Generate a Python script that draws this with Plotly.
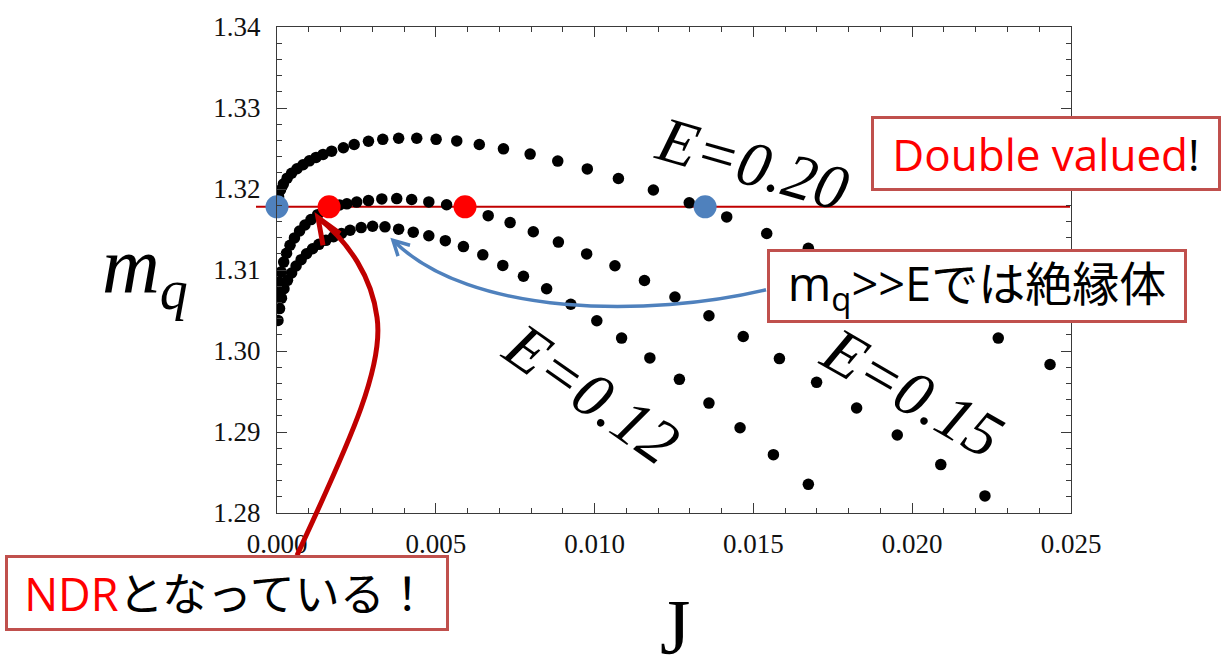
import plotly.graph_objects as go

# ---------------- data ----------------
J_E020 = [0.00002, 0.00005, 0.00011, 0.00020, 0.00032, 0.00046, 0.00063, 0.00082, 0.00102,
          0.00123, 0.00145, 0.00172, 0.00209, 0.00243, 0.00288, 0.00333, 0.00383, 0.00440,
          0.00501, 0.00566, 0.00637, 0.00713, 0.00797, 0.00884, 0.00977, 0.01075, 0.01185,
          0.01298, 0.01416, 0.01542, 0.01673, 0.01810, 0.01958, 0.02113, 0.02271, 0.02434]
m_E020 = [1.31805, 1.31902, 1.31988, 1.32061, 1.32134, 1.32195, 1.32250, 1.32299, 1.32348,
          1.32390, 1.32427, 1.32467, 1.32509, 1.32549, 1.32589, 1.32613, 1.32626, 1.32626,
          1.32613, 1.32594, 1.32549, 1.32496, 1.32431, 1.32345, 1.32248, 1.32130, 1.31988,
          1.31829, 1.31655, 1.31451, 1.31268, 1.31049, 1.30793, 1.30488, 1.30159, 1.29833]

J_E015 = [0.00003, 0.00006, 0.00013, 0.00021, 0.00030, 0.00041, 0.00055, 0.00071, 0.00088,
          0.00107, 0.00128, 0.00150, 0.00173, 0.00197, 0.00220, 0.00251, 0.00288, 0.00330,
          0.00377, 0.00424, 0.00478, 0.00534, 0.00598, 0.00665, 0.00734, 0.00807, 0.00886,
          0.00975, 0.01064, 0.01157, 0.01253, 0.01360, 0.01468, 0.01582, 0.01699, 0.01825,
          0.01953, 0.02090, 0.02229, 0.02371]
m_E015 = [1.30720, 1.30854, 1.30976, 1.31098, 1.31207, 1.31305, 1.31396, 1.31482, 1.31555,
          1.31622, 1.31683, 1.31732, 1.31774, 1.31802, 1.31817, 1.31838, 1.31857, 1.31878,
          1.31882, 1.31870, 1.31841, 1.31805, 1.31744, 1.31671, 1.31585, 1.31472, 1.31345,
          1.31199, 1.31052, 1.30870, 1.30667, 1.30435, 1.30179, 1.29906, 1.29613, 1.29296,
          1.28963, 1.28598, 1.28211, 1.27793]

J_E012 = [0.00003, 0.00008, 0.00014, 0.00022, 0.00033, 0.00046, 0.00060, 0.00076, 0.00093,
          0.00112, 0.00132, 0.00154, 0.00178, 0.00203, 0.00230, 0.00265, 0.00301, 0.00340,
          0.00383, 0.00429, 0.00478, 0.00530, 0.00587, 0.00648, 0.00711, 0.00776, 0.00849,
          0.00925, 0.01007, 0.01085, 0.01174, 0.01267, 0.01360, 0.01458, 0.01563, 0.01673,
          0.01781]
m_E012 = [1.30378, 1.30524, 1.30652, 1.30768, 1.30872, 1.30963, 1.31049, 1.31128, 1.31201,
          1.31262, 1.31317, 1.31366, 1.31411, 1.31451, 1.31491, 1.31524, 1.31540, 1.31533,
          1.31504, 1.31467, 1.31423, 1.31362, 1.31289, 1.31187, 1.31057, 1.30923, 1.30768,
          1.30577, 1.30374, 1.30159, 1.29915, 1.29650, 1.29357, 1.29052, 1.28720, 1.28354,
          1.27996]

m_level = 1.3178                 # horizontal red line
J_blue = [0.0, 0.01348]          # blue marked points (E=0.20 branch)
J_red = [0.00164, 0.00592]       # red marked points (E=0.15 branch)

x_tick_vals = [0.0, 0.005, 0.010, 0.015, 0.020, 0.025]
x_tick_text = ["0.000", "0.005", "0.010", "0.015", "0.020", "0.025"]
y_tick_vals = [1.28, 1.29, 1.30, 1.31, 1.32, 1.33, 1.34]
y_tick_text = ["1.28", "1.29", "1.30", "1.31", "1.32", "1.33", "1.34"]

curve_labels = ["E=0.20", "E=0.12", "E=0.15"]

# ---------------- layout geometry ----------------
W, H = 1229, 662
ML, MR, MT, MB = 277, 158, 21, 149
X_RANGE = [0.0, 0.025]
Y_RANGE = [1.28, 1.34]
PW, PH = W - ML - MR, H - MT - MB


def px(x):  # pixel -> paper x
    return (x - ML) / PW


def py(y):  # pixel -> paper y
    return (H - MB - y) / PH


def dx(J):  # data -> paper x
    return (J - X_RANGE[0]) / (X_RANGE[1] - X_RANGE[0])


def dy(m):  # data -> paper y
    return (m - Y_RANGE[0]) / (Y_RANGE[1] - Y_RANGE[0])


def data_path(pts, cubic=True):
    p = [(dx(a), dy(b)) for a, b in pts]
    s = "M {:.5f},{:.5f}".format(*p[0])
    rest = p[1:]
    if cubic:
        for i in range(0, len(rest), 3):
            s += " C " + " ".join("{:.5f},{:.5f}".format(*q) for q in rest[i:i + 3])
    else:
        s += "".join(" L {:.5f},{:.5f}".format(*q) for q in rest)
    return s


fig = go.Figure()

for J, m in [(J_E020, m_E020), (J_E015, m_E015), (J_E012, m_E012)]:
    fig.add_trace(go.Scatter(x=J, y=m, mode="markers",
                             marker=dict(color="black", size=11.5, line=dict(width=0)),
                             showlegend=False, hoverinfo="skip"))

fig.add_trace(go.Scatter(x=J_red, y=[m_level] * len(J_red), mode="markers", cliponaxis=False,
                         marker=dict(color="#FF0000", size=23, line=dict(width=0)),
                         showlegend=False, hoverinfo="skip"))
fig.add_trace(go.Scatter(x=J_blue, y=[m_level] * len(J_blue), mode="markers", cliponaxis=False,
                         marker=dict(color="#4F81BD", size=23, line=dict(width=0)),
                         showlegend=False, hoverinfo="skip"))

# horizontal red line
fig.add_shape(type="line", xref="paper", yref="y", x0=px(256), x1=px(1070),
              y0=m_level, y1=m_level, line=dict(color="#C00000", width=2), layer="below")

# arrows (waypoints in data units)
blue_arrow = [(0.015397, 1.30756), (0.011744, 1.30415), (0.006077, 1.30415), (0.003652, 1.31366)]
blue_head = [(0.003810, 1.31171), (0.003652, 1.31366), (0.004188, 1.31305)]
red_arrow = [(0.000630, 1.27476), (0.001984, 1.28646), (0.003400, 1.29744), (0.003149, 1.30415),
             (0.002991, 1.30902), (0.002299, 1.31329), (0.001291, 1.31646)]
red_head = [(0.001984, 1.31451), (0.001291, 1.31646), (0.001448, 1.31305)]

fig.add_shape(type="path", xref="paper", yref="paper", path=data_path(blue_arrow),
              line=dict(color="#4F81BD", width=3.5))
fig.add_shape(type="path", xref="paper", yref="paper", path=data_path(blue_head, cubic=False),
              line=dict(color="#4F81BD", width=3.5))
fig.add_shape(type="path", xref="paper", yref="paper", path=data_path(red_arrow),
              line=dict(color="#C00000", width=5))
fig.add_shape(type="path", xref="paper", yref="paper", path=data_path(red_head, cubic=False),
              line=dict(color="#C00000", width=5))

serif = "Liberation Serif, Times New Roman, serif"
sans = "Open Sans, Noto Sans CJK JP, sans-serif"

# curve labels
for txt, (cx, cy, ang) in zip(curve_labels, [(752, 159, 16), (591, 392, 35), (912, 391, 30)]):
    fig.add_annotation(x=px(cx), y=py(cy), xref="paper", yref="paper", text="<i>" + txt + "</i>",
                       textangle=ang, showarrow=False, xanchor="center", yanchor="middle",
                       font=dict(family=serif, size=64, color="black"))

# axis titles
fig.add_annotation(x=px(145), y=py(268), xref="paper", yref="paper",
                   text="<i>m</i><sub><i>q</i></sub>", showarrow=False,
                   xanchor="center", yanchor="middle",
                   font=dict(family=serif, size=80, color="black"))
fig.add_annotation(x=px(675), y=py(628), xref="paper", yref="paper", text="J", showarrow=False,
                   xanchor="center", yanchor="middle",
                   font=dict(family=serif, size=78, color="black"))

# boxed notes
box_style = dict(showarrow=False, xref="paper", yref="paper", xanchor="center", yanchor="middle",
                 bgcolor="white", bordercolor="#C0504D", borderwidth=3, borderpad=0)
fig.add_annotation(x=px(1046), y=py(149.5), width=344, height=69,
                   text="<span style='color:#FF0000'>Double valued</span>!",
                   font=dict(family=sans, size=44, color="black"), **box_style)
fig.add_annotation(x=px(977), y=py(283), width=414, height=68,
                   text="m<sub>q</sub>&gt;&gt;Eでは絶縁体",
                   font=dict(family=sans, size=47, color="black"), **box_style)
fig.add_annotation(x=px(227), y=py(594), width=438, height=70,
                   text="<span style='color:#FF0000'>NDR</span>となっている！",
                   font=dict(family=sans, size=45, color="black"), **box_style)

axis_common = dict(showline=True, linecolor="#3a3a3a", linewidth=1.3, mirror="ticks",
                   ticks="inside", ticklen=10, tickwidth=1.2, tickcolor="#3a3a3a",
                   showgrid=False, zeroline=False,
                   tickfont=dict(family=serif, size=27, color="#111111"))

fig.update_xaxes(range=X_RANGE, tickvals=x_tick_vals, ticktext=x_tick_text,
                 minor=dict(dtick=0.001, tick0=0, ticks="inside", ticklen=5, tickwidth=1.2,
                            tickcolor="#3a3a3a", showgrid=False),
                 ticklabelstandoff=6, **axis_common)
fig.update_yaxes(range=Y_RANGE, tickvals=y_tick_vals, ticktext=y_tick_text,
                 minor=dict(dtick=0.002, tick0=1.28, ticks="inside", ticklen=5, tickwidth=1.2,
                            tickcolor="#3a3a3a", showgrid=False),
                 ticklabelstandoff=10, **axis_common)

fig.update_layout(width=W, height=H, margin=dict(l=ML, r=MR, t=MT, b=MB, pad=0),
                  paper_bgcolor="white", plot_bgcolor="white", showlegend=False)

fig.write_html("out.html")
